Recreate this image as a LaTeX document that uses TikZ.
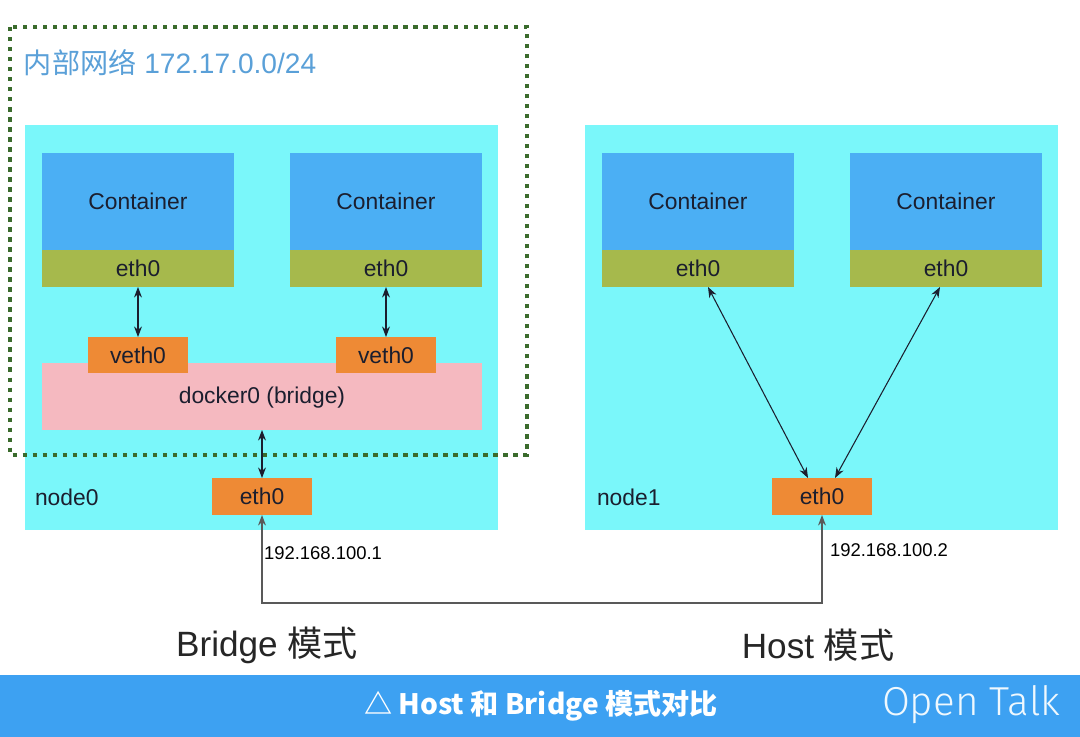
\documentclass[tikz,border=0pt]{standalone}
\usepackage{fontspec}
\setmainfont{Liberation Sans}
\newfontfamily\cjk{Noto Sans CJK SC}
\IfFontExistsTF{Fira Sans Light}{\newfontfamily\thinfont{Fira Sans Light}}{\newfontfamily\thinfont{Fira Sans}}
\usetikzlibrary{arrows.meta,calc}
\definecolor{hostcyan}{HTML}{7AF7FA}
\definecolor{contblue}{HTML}{4BAFF4}
\definecolor{ethgreen}{HTML}{A6B94C}
\definecolor{vethorange}{HTML}{EE8A35}
\definecolor{bridgepink}{HTML}{F5B9C0}
\definecolor{dotgreen}{HTML}{3A6B2C}
\definecolor{titleblue}{HTML}{5AA0D8}
\definecolor{barblue}{HTML}{3DA1F2}
\definecolor{txt}{HTML}{1B1E2E}
% \pbox{name}{style}{x1}{y1}{x2}{y2}{text}
\newcommand\pbox[7]{\node[#2, minimum width={(#5-#3)*0.02cm}, minimum height={(#6-#4)*0.02cm}] (#1) at ({(#3+#5)/2},{(#4+#6)/2}) {#7};}
\begin{document}
\begin{tikzpicture}[x=0.02cm,y=-0.02cm,
  every node/.style={inner sep=0pt, outer sep=0pt},
  hostbox/.style={fill=hostcyan},
  contbox/.style={fill=contblue, text=txt, font=\fontsize{13pt}{15pt}\selectfont},
  ethbox/.style={fill=ethgreen, text=txt, font=\fontsize{13pt}{15pt}\selectfont},
  orbox/.style={fill=vethorange, text=txt, font=\fontsize{13pt}{15pt}\selectfont},
  brbox/.style={fill=bridgepink, text=txt, font=\fontsize{13pt}{15pt}\selectfont},
  lbl/.style={text=txt, font=\fontsize{13pt}{15pt}\selectfont},
  iplbl/.style={text=black, font=\fontsize{10.5pt}{12pt}\selectfont},
  modelbl/.style={text=black!85, font=\fontsize{20pt}{24pt}\selectfont},
  dbl/.style={{Stealth[length=6pt,width=4.5pt]}-{Stealth[length=6pt,width=4.5pt]}, draw=txt, line width=0.6pt},
  wire/.style={{Stealth[length=6pt,width=4.5pt]}-{Stealth[length=6pt,width=4.5pt]}, draw=black!65, line width=0.8pt},
  netbox/.style={draw=dotgreen, line width=2.5pt, dash pattern=on 2.5pt off 3.2pt}
]
\useasboundingbox (0,0) rectangle (1080,737);
\fill[white] (0,0) rectangle (1080,737);

% host boxes
\pbox{node0}{hostbox}{25}{125}{498}{530}{}
\pbox{node1}{hostbox}{585}{125}{1058}{530}{}

% containers node0
\pbox{c1}{contbox}{42}{153}{234}{250}{Container}
\pbox{e1}{ethbox}{42}{250}{234}{287}{eth0}
\pbox{c2}{contbox}{290}{153}{482}{250}{Container}
\pbox{e2}{ethbox}{290}{250}{482}{287}{eth0}
% containers node1
\pbox{c3}{contbox}{602}{153}{794}{250}{Container}
\pbox{e3}{ethbox}{602}{250}{794}{287}{eth0}
\pbox{c4}{contbox}{850}{153}{1042}{250}{Container}
\pbox{e4}{ethbox}{850}{250}{1042}{287}{eth0}

% bridge
\pbox{br}{brbox, text depth=1pt}{42}{363}{482}{430}{docker0 (bridge)}
\pbox{v1}{orbox}{88}{337}{188}{373}{veth0}
\pbox{v2}{orbox}{336}{337}{436}{373}{veth0}

% host eth0
\pbox{b0}{orbox}{212}{478}{312}{515}{eth0}
\pbox{h1}{orbox}{772}{478}{872}{515}{eth0}

\node[lbl, anchor=west] (n0l) at (35,497) {node0};
\node[lbl, anchor=west] (n1l) at (597,497) {node1};

% connectors
\draw[dbl] (e1.south) -- (v1.north);
\draw[dbl] (e2.south) -- (v2.north);
\draw[dbl] (br.south) -- (b0.north);
\draw[dbl] ($(e3.south)+(10,0)$) -- ($(h1.north)+(-14,0)$);
\draw[dbl] ($(e4.south)+(-6,0)$) -- ($(h1.north)+(13,0)$);
\draw[wire] (b0.south) -- ++(0,88) -| (h1.south);

\node[iplbl, anchor=west] (ip1) at (264,553) {192.168.100.1};
\node[iplbl, anchor=west] (ip2) at (830,550) {192.168.100.2};

% internal network dotted box
\draw[netbox] (10,27) rectangle (527,455);
\node[anchor=west, text=titleblue, font=\fontsize{16pt}{19pt}\selectfont] (netl) at (24,63) {{\cjk 内部网络} 172.17.0.0/24};

% mode labels
\node[modelbl] (bm) at (267,645) {Bridge {\cjk 模式}};
\node[modelbl] (hm) at (818,645) {Host {\cjk 模式}};

% bottom bar
\fill[barblue] (0,675) rectangle (1080,737);
\node[text=white, font=\cjk\bfseries\fontsize{16pt}{19pt}\selectfont] (cap) at (541,706) {△ Host 和 Bridge 模式对比};
\node[text=white!92!barblue, font=\thinfont\fontsize{23pt}{26pt}\selectfont, anchor=west] (ot) at (882,705) {Open Talk};
\end{tikzpicture}
\end{document}
